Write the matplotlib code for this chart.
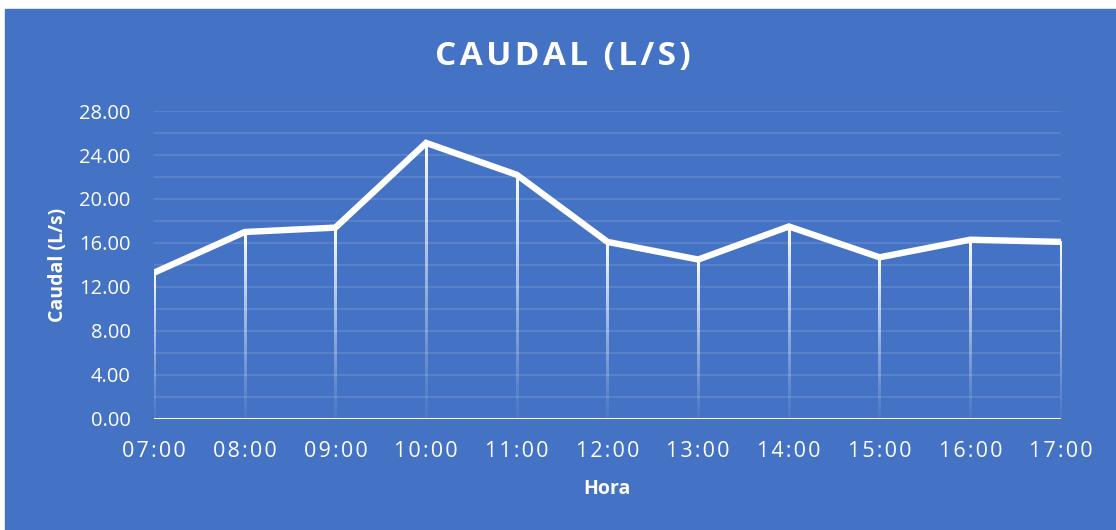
import matplotlib.pyplot as plt
import numpy as np

horas = ["07:00", "08:00", "09:00", "10:00", "11:00", "12:00",
         "13:00", "14:00", "15:00", "16:00", "17:00"]
caudal = [13.3, 17.0, 17.4, 25.1, 22.2, 16.1, 14.5, 17.5, 14.7, 16.3, 16.1]
yticks = [0, 4, 8, 12, 16, 20, 24, 28]

BLUE = "#4472C4"
plt.rcParams['font.family'] = ['Open Sans', 'DejaVu Sans']

def spaced(s, sp="\u200a"):
    return sp.join(s)

fig = plt.figure(figsize=(11.16, 5.30), dpi=100)
fig.patch.set_facecolor("white")
# blue chart area (white strip on left and top like the reference)
fig.patches.append(plt.Rectangle((5 / 1116, 0), 1, 1 - 9 / 530,
                                 transform=fig.transFigure, color=BLUE, zorder=-5))

ax = fig.add_axes([154 / 1116, 111 / 530, (1061 - 154) / 1116, (419 - 111) / 530])
ax.set_zorder(2)
ax.patch.set_alpha(0)

x = np.arange(len(horas))

# gridlines every 2
for g in range(2, 29, 2):
    ax.axhline(g, color="white", alpha=0.13, lw=1.2, zorder=1)

# drop lines fading towards the bottom
grad = np.zeros((200, 1, 4))
grad[..., :3] = 1
grad[:, 0, 3] = 0.05 + 0.95 * np.linspace(1, 0, 200) ** 1.2
w = 0.013
for xi, yi in zip(x, caudal):
    ax.imshow(grad, extent=(xi - w, xi + w, 0, yi), aspect="auto",
              interpolation="bilinear", zorder=2)

ax.plot(x, caudal, color="white", lw=4.6, zorder=3, solid_joinstyle="miter")
ax.axhline(0, color="white", lw=2.2, zorder=4)
ax.set_xlim(0, len(horas) - 1)
ax.set_ylim(0, 28)

for s in ax.spines.values():
    s.set_visible(False)
ax.tick_params(length=0, colors="white")
ax.set_xticks(x)
ax.set_xticklabels([spaced(h) for h in horas], fontsize=15.5)
ax.tick_params(axis="x", pad=16)
ax.set_yticks(yticks)
ax.set_yticklabels([f"{v:.2f}" for v in yticks], fontsize=14.5)
ax.tick_params(axis="y", pad=17)

fig.text(563 / 1116, 1 - 57 / 530, spaced("CAUDAL (L/S)"), color="white",
         fontsize=24, fontweight="bold", ha="center", va="center")
fig.text(607 / 1116, 1 - 489 / 530, "Hora", color="white", fontsize=14,
         fontweight="bold", ha="center", va="center")
fig.text(58 / 1116, 1 - 265 / 530, "Caudal (L/s)", color="white", fontsize=14,
         fontweight="bold", ha="center", va="center", rotation=90)

fig.savefig("out.png", dpi=100, facecolor=fig.get_facecolor())
